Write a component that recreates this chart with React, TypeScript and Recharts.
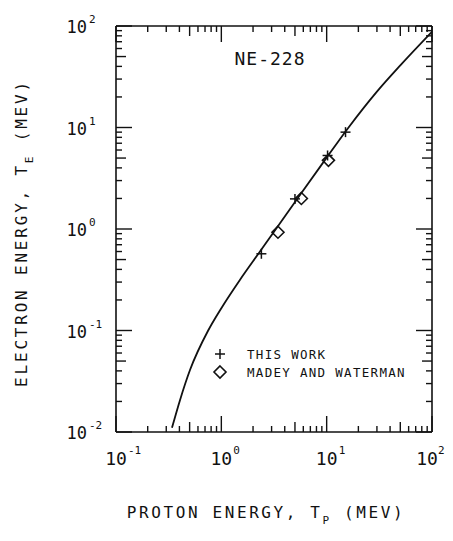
import React from 'react';
import { ComposedChart, Line, Scatter, XAxis, YAxis, Legend, Label } from 'recharts';

// ---- data ----
const X_TICKS = [0.1, 0.2, 0.3, 0.4, 0.5, 0.6, 0.7, 0.8, 0.9, 1, 2, 3, 4, 5, 6, 7, 8, 9, 10, 20, 30, 40, 50, 60, 70, 80, 90, 100];
const X_MAJOR = [0.1, 1, 10, 100];
const X_EXP_LABELS = ['-1', '0', '1', '2'];
const Y_TICKS = [0.01, 0.02, 0.03, 0.04, 0.05, 0.06, 0.07, 0.08, 0.09, 0.1, 0.2, 0.3, 0.4, 0.5, 0.6, 0.7, 0.8, 0.9, 1, 2, 3, 4, 5, 6, 7, 8, 9, 10, 20, 30, 40, 50, 60, 70, 80, 90, 100];
const Y_MAJOR = [0.01, 0.1, 1, 10, 100];
const Y_EXP_LABELS = ['-2', '-1', '0', '1', '2'];
const MID_TICKS = [0.5, 5, 50, 0.05];

const curveData = [
  { x: 0.34, y: 0.011 },
  { x: 0.405, y: 0.0206 },
  { x: 0.505, y: 0.041 },
  { x: 0.75, y: 0.1 },
  { x: 1.0, y: 0.166 },
  { x: 1.5, y: 0.315 },
  { x: 2.3, y: 0.59 },
  { x: 3.3, y: 1.0 },
  { x: 5.6, y: 2.18 },
  { x: 10, y: 5.05 },
  { x: 16, y: 9.9 },
  { x: 30, y: 22.6 },
  { x: 50, y: 41 },
  { x: 100, y: 88 },
];

const thisWork = [
  { x: 2.4, y: 0.57 },
  { x: 5.0, y: 1.98 },
  { x: 10.2, y: 5.3 },
  { x: 15.1, y: 9.0 },
];

const madeyWaterman = [
  { x: 3.45, y: 0.93 },
  { x: 5.75, y: 2.0 },
  { x: 10.4, y: 4.75 },
];

const LEGEND_LABELS = ['THIS WORK', 'MADEY AND WATERMAN'];
const TITLE = 'NE-228';
const X_TITLE = ['PROTON ENERGY, T', 'P', ' (MEV)'];
const Y_TITLE = ['ELECTRON ENERGY, T', 'E', ' (MEV)'];

// ---- styles ----
const INK = '#111';
const FONT = '"DejaVu Sans Mono", monospace';

const tickLen = (v: number, major: number[]) => {
  if (major.some((m) => Math.abs(m - v) < 1e-9)) return 16;
  if (MID_TICKS.some((m) => Math.abs(m - v) < 1e-9)) return 10;
  return 6;
};
const majorIndex = (v: number, major: number[]) => major.findIndex((m) => Math.abs(m - v) < 1e-9);

const BottomTick = (props: any) => {
  const { x, y, payload } = props;
  const v = payload.value;
  const len = tickLen(v, X_MAJOR);
  const mi = majorIndex(v, X_MAJOR);
  const last = mi === X_MAJOR.length - 1;
  const baseX = last ? x - 5 : x;
  const supX = last ? x + 6 : x + 12;
  return (
    <g>
      <line x1={x} y1={y} x2={x} y2={y - len} stroke={INK} strokeWidth={1.4} />
      {mi >= 0 && (
        <g fontFamily={FONT} fill={INK}>
          <text x={baseX} y={y + 33} fontSize={18} textAnchor="middle">10</text>
          <text x={supX} y={y + 22} fontSize={11} textAnchor="start">{X_EXP_LABELS[mi]}</text>
        </g>
      )}
    </g>
  );
};

const TopTick = (props: any) => {
  const { x, y, payload } = props;
  const len = tickLen(payload.value, X_MAJOR);
  return <line x1={x} y1={y} x2={x} y2={y + len} stroke={INK} strokeWidth={1.4} />;
};

const LeftTick = (props: any) => {
  const { x, y, payload } = props;
  const v = payload.value;
  const len = tickLen(v, Y_MAJOR);
  const mi = majorIndex(v, Y_MAJOR);
  return (
    <g>
      <line x1={x} y1={y} x2={x + len} y2={y} stroke={INK} strokeWidth={1.4} />
      {mi >= 0 && (
        <g fontFamily={FONT} fill={INK}>
          <text x={x - 29} y={y + 7} fontSize={17} textAnchor="end">10</text>
          <text x={x - 27} y={y - 3} fontSize={11} textAnchor="start">{Y_EXP_LABELS[mi]}</text>
        </g>
      )}
    </g>
  );
};

const RightTick = (props: any) => {
  const { x, y, payload } = props;
  const len = tickLen(payload.value, Y_MAJOR);
  return <line x1={x} y1={y} x2={x - len} y2={y} stroke={INK} strokeWidth={1.4} />;
};

const XTitle = (props: any) => {
  const vb = props.viewBox || { x: 116, y: 432, width: 316, height: 109 };
  return (
    <text x={vb.x + vb.width / 2 - 8} y={vb.y + 86} textAnchor="middle" fontFamily={FONT} fontSize={16} letterSpacing={2.6} fill={INK}>
      <tspan>{X_TITLE[0]}</tspan>
      <tspan dy={6} fontSize={11}>{X_TITLE[1]}</tspan>
      <tspan dy={-6}>{X_TITLE[2]}</tspan>
    </text>
  );
};

const YTitle = (props: any) => {
  const vb = props.viewBox || { x: 0, y: 26, width: 116, height: 406 };
  const cx = vb.x + 27;
  const cy = vb.y + vb.height / 2 + 4;
  return (
    <text x={cx} y={cy} transform={`rotate(-90, ${cx}, ${cy})`} textAnchor="middle" fontFamily={FONT} fontSize={16} letterSpacing={2.8} fill={INK}>
      <tspan>{Y_TITLE[0]}</tspan>
      <tspan dy={6} fontSize={11}>{Y_TITLE[1]}</tspan>
      <tspan dy={-6}>{Y_TITLE[2]}</tspan>
    </text>
  );
};

const TitleLabel = (props: any) => {
  const vb = props.viewBox || { x: 116, y: 25, width: 316, height: 1 };
  return (
    <text x={vb.x + vb.width / 2 - 4} y={vb.y + vb.height + 39} textAnchor="middle" fontFamily={FONT} fontSize={18} letterSpacing={1} fill={INK}>
      {TITLE}
    </text>
  );
};

const PlusShape = (props: any) => {
  const { cx, cy } = props;
  return (
    <g stroke={INK} strokeWidth={1.5}>
      <line x1={cx - 5} y1={cy} x2={cx + 5} y2={cy} />
      <line x1={cx} y1={cy - 5} x2={cx} y2={cy + 5} />
    </g>
  );
};

const DiamondShape = (props: any) => {
  const { cx, cy } = props;
  const r = 6;
  return (
    <polygon
      points={`${cx},${cy - r} ${cx + r},${cy} ${cx},${cy + r} ${cx - r},${cy}`}
      fill="none"
      stroke={INK}
      strokeWidth={1.6}
    />
  );
};

const LegendContent = () => (
  <svg width={240} height={50} style={{ display: 'block' }}>
    <g stroke={INK} strokeWidth={1.5}>
      <line x1={12} y1={13} x2={22} y2={13} />
      <line x1={17} y1={8} x2={17} y2={18} />
    </g>
    <polygon points="17,25 23,31 17,37 11,31" fill="none" stroke={INK} strokeWidth={1.6} />
    <g fontFamily={FONT} fontSize={12.5} fill={INK} letterSpacing={1.3}>
      <text x={44} y={18}>{LEGEND_LABELS[0]}</text>
      <text x={44} y={36}>{LEGEND_LABELS[1]}</text>
    </g>
  </svg>
);

export default function App() {
  const axisLine = { stroke: INK, strokeWidth: 1.6 };
  return (
    <div style={{ margin: -8, width: 453, height: 541 }}>
      <ComposedChart width={453} height={541} margin={{ top: 25, right: 20, bottom: 0, left: 0 }}>
        <XAxis
          xAxisId="b"
          orientation="bottom"
          type="number"
          dataKey="x"
          scale="log"
          domain={[0.1, 100]}
          allowDataOverflow
          ticks={X_TICKS}
          interval={0}
          tickSize={0}
          tickMargin={0}
          tickLine={false}
          axisLine={axisLine}
          tick={(p: any) => <BottomTick {...p} />}
          height={109}
        >
          <Label content={XTitle} />
        </XAxis>
        <XAxis
          xAxisId="t"
          orientation="top"
          type="number"
          dataKey="x"
          scale="log"
          domain={[0.1, 100]}
          allowDataOverflow
          ticks={X_TICKS}
          interval={0}
          tickSize={0}
          tickMargin={0}
          tickLine={false}
          axisLine={axisLine}
          tick={(p: any) => <TopTick {...p} />}
          height={1}
        >
          <Label content={TitleLabel} />
        </XAxis>
        <YAxis
          yAxisId="l"
          orientation="left"
          type="number"
          dataKey="y"
          scale="log"
          domain={[0.01, 100]}
          allowDataOverflow
          ticks={Y_TICKS}
          interval={0}
          tickSize={0}
          tickMargin={0}
          tickLine={false}
          axisLine={axisLine}
          tick={(p: any) => <LeftTick {...p} />}
          width={116}
        >
          <Label content={YTitle} />
        </YAxis>
        <YAxis
          yAxisId="r"
          orientation="right"
          type="number"
          dataKey="y"
          scale="log"
          domain={[0.01, 100]}
          allowDataOverflow
          ticks={Y_TICKS}
          interval={0}
          tickSize={0}
          tickMargin={0}
          tickLine={false}
          axisLine={axisLine}
          tick={(p: any) => <RightTick {...p} />}
          width={1}
        />
        <Line
          xAxisId="b"
          yAxisId="l"
          data={curveData}
          dataKey="y"
          type="monotone"
          dot={false}
          stroke={INK}
          strokeWidth={1.8}
          isAnimationActive={false}
        />
        <Scatter xAxisId="b" yAxisId="l" data={thisWork} dataKey="y" shape={PlusShape} isAnimationActive={false} />
        <Scatter xAxisId="b" yAxisId="l" data={madeyWaterman} dataKey="y" shape={DiamondShape} isAnimationActive={false} />
        <Legend
          content={LegendContent}
          layout="horizontal"
          verticalAlign="middle"
          align="center"
          wrapperStyle={{ position: 'absolute', left: 203, top: 341, width: 240, height: 50 }}
        />
      </ComposedChart>
    </div>
  );
}
